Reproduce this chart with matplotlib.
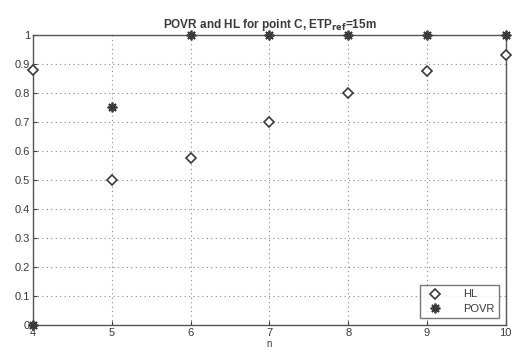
import matplotlib
matplotlib.use("Agg")
import matplotlib.pyplot as plt

n_values = [4, 5, 6, 7, 8, 9, 10]
hl_values = [0.88, 0.50, 0.575, 0.70, 0.80, 0.875, 0.93]
povr_values = [0.0, 0.75, 1.0, 1.0, 1.0, 1.0, 1.0]
x_ticks = [4, 5, 6, 7, 8, 9, 10]
y_ticks = [0, 0.1, 0.2, 0.3, 0.4, 0.5, 0.6, 0.7, 0.8, 0.9, 1]

ink = "#3a3a3a"
plt.rcParams["font.family"] = ["Liberation Sans", "DejaVu Sans"]

fig = plt.figure(figsize=(5.15, 3.56), dpi=100)
ax = fig.add_axes([0.064, 0.087, 0.918, 0.815])

ax.plot(n_values, hl_values, linestyle="none", marker="D", markersize=5.5,
        markerfacecolor="white", markeredgecolor=ink, markeredgewidth=1.2,
        label="HL", clip_on=False, zorder=3)
ax.plot(n_values, povr_values, linestyle="none", marker=(8, 2, 0), markersize=7,
        markeredgecolor=ink, markeredgewidth=1.3, color=ink,
        label="POVR", clip_on=False, zorder=3)

ax.set_xlim(4, 10)
ax.set_ylim(0, 1)
ax.set_xticks(x_ticks)
ax.set_yticks(y_ticks)
ax.set_yticklabels(["0", "0.1", "0.2", "0.3", "0.4", "0.5", "0.6", "0.7", "0.8", "0.9", "1"])
ax.grid(True, linestyle=(0, (1, 3)), color="#888888", linewidth=0.8)
ax.tick_params(direction="in", length=3, colors=ink, labelsize=8, pad=2)
for spine in ax.spines.values():
    spine.set_color("#555555")
    spine.set_linewidth(1.0)

ax.set_xlabel("n", fontsize=7, color=ink, labelpad=1)
ax.set_title(r"POVR and HL for point C, ETP$_{\mathbf{ref}}$=15m",
             fontsize=8.5, fontweight="bold", color=ink, pad=5)

leg = ax.legend(loc="lower right", fontsize=8, frameon=True, fancybox=False,
                edgecolor="#555555", borderaxespad=0.6, handletextpad=1.5,
                labelspacing=0.4)
for t in leg.get_texts():
    t.set_color(ink)

fig.savefig("out.png", dpi=100)
